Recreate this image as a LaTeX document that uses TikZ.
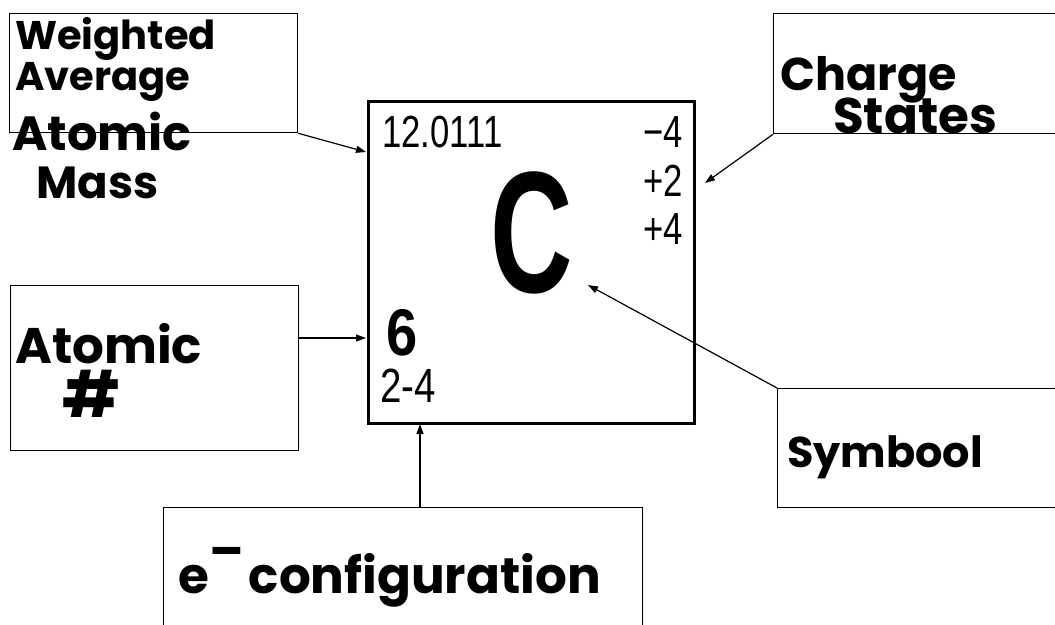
\documentclass[tikz,border=0pt]{standalone}
\usepackage{fontspec}
\usepackage{graphicx}
\usetikzlibrary{arrows.meta}
\newfontfamily\hand{Poppins}
\newfontfamily\elemfont{Liberation Sans}
\tikzset{
  labelbox/.style={draw, line width=1.3pt, anchor=north west, inner sep=0pt},
  elembox/.style={draw, line width=3pt, anchor=north west, inner sep=0pt},
  handtext/.style={anchor=base west, inner sep=0pt, font=\hand\bfseries\fontsize{40}{40}\selectfont},
  elemtext/.style={inner sep=0pt, font=\elemfont},
  pointer/.style={line width=1.2pt, -{Triangle[length=10pt,width=7pt]}}
}
\begin{document}
\begin{tikzpicture}[x=1pt,y=-1pt]
\useasboundingbox (0,0) rectangle (1055,624);
\clip (0,0) rectangle (1055,624);
% label boxes
\node[labelbox, minimum width=288pt, minimum height=119pt] (wbox) at (9,13) {};
\node[labelbox, minimum width=288pt, minimum height=165pt] (abox) at (10,285) {};
\node[labelbox, minimum width=300pt, minimum height=120pt] (cbox) at (773,13) {};
\node[labelbox, minimum width=300pt, minimum height=119pt] (sbox) at (777,388) {};
\node[labelbox, minimum width=479pt, minimum height=140pt] (ebox) at (163,507) {};
% element box
\node[elembox, minimum width=326pt, minimum height=322pt] (elem) at (367,100) {};
% handwritten labels
\node[handtext, align=left, font=\hand\bfseries\fontsize{40}{35}\selectfont] (w1) at (15,90) {Weighted\\Average};
\node[handtext, font=\hand\bfseries\fontsize{48}{48}\selectfont] (w3) at (12,150) {Atomic};
\node[handtext, font=\hand\bfseries\fontsize{45}{45}\selectfont] (w4) at (36,198) {Mass};
\node[handtext, font=\hand\bfseries\fontsize{46}{46}\selectfont] (c1) at (780,90) {Charge};
\node[handtext, font=\hand\bfseries\fontsize{50}{50}\selectfont] (c2) at (833,133) {States};
\node[handtext, font=\hand\bfseries\fontsize{43}{43}\selectfont] (s1) at (787,467) {Symbool};
\node[handtext, font=\hand\bfseries\fontsize{50}{50}\selectfont] (a1) at (15,363) {Atomic};
\node[handtext, font=\hand\bfseries\fontsize{64}{64}\selectfont] (a2) at (62,417) {\#};
\node[handtext, font=\hand\bfseries\fontsize{50}{50}\selectfont] (e1) at (178,593) {e\raisebox{.5em}{–}\kern.1em configuration};
% element contents
\node[elemtext, anchor=base west] (mass) at (382,147) {\scalebox{0.77}[1]{\fontsize{45}{45}\selectfont 12.0111}};
\node[elemtext, anchor=base east] (q1) at (683,147) {\scalebox{0.77}[1]{\fontsize{45}{45}\selectfont −4}};
\node[elemtext, anchor=base east] (q2) at (683,196) {\scalebox{0.77}[1]{\fontsize{45}{45}\selectfont +2}};
\node[elemtext, anchor=base east] (q3) at (683,244) {\scalebox{0.77}[1]{\fontsize{45}{45}\selectfont +4}};
\node[elemtext, anchor=base] (sym) at (532,292) {\scalebox{0.66}[1]{\fontsize{173}{173}\selectfont\bfseries C}};
\node[elemtext, anchor=base west] (num) at (386,355) {\scalebox{0.85}[1]{\fontsize{66}{66}\selectfont\bfseries 6}};
\node[elemtext, anchor=base west] (cfg) at (380,402) {\scalebox{0.8}[1]{\fontsize{48}{48}\selectfont 2-4}};
% connector ends
\coordinate (wt) at (366,152);
\coordinate (as) at (298,338);
\coordinate (at) at (366,338);
\coordinate (ct) at (705,183);
\coordinate (st) at (588,285);
\coordinate (es) at (420,507);
\coordinate (et) at (420,424);
% connectors
\draw[pointer] (wbox.south east) -- (wt);
\draw[pointer] (as) -- (at);
\draw[pointer] (cbox.south west) -- (ct);
\draw[pointer] (sbox.north west) -- (st);
\draw[pointer] (es) -- (et);
\end{tikzpicture}
\end{document}
